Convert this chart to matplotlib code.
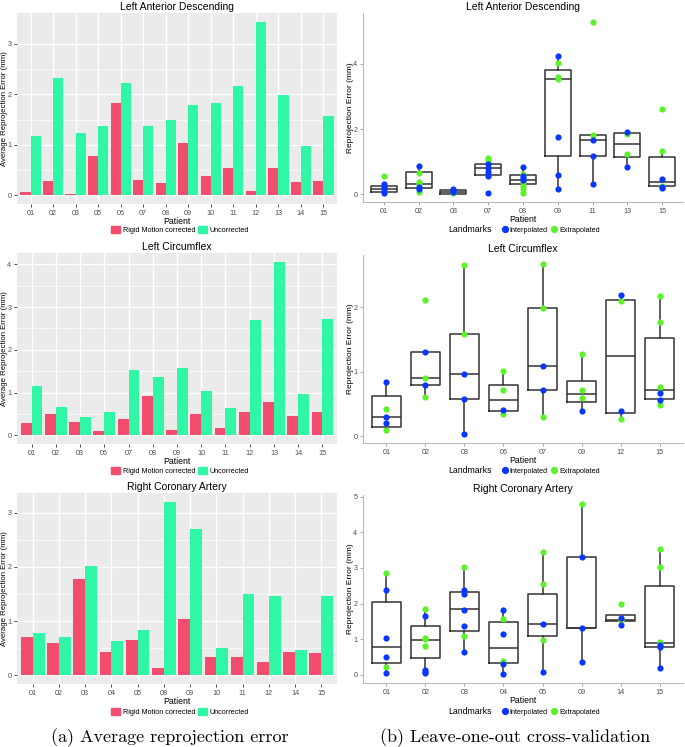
import matplotlib.pyplot as plt
from matplotlib.lines import Line2D
from matplotlib.patches import Patch
import numpy as np

plt.rcParams['font.family'] = ['Liberation Sans', 'DejaVu Sans']

# ---- bar data (average reprojection error) ----
lad_patients = ['01', '02', '03', '05', '06', '07', '08', '09', '10', '11', '12', '13', '14', '15']
lad_corrected = [0.07, 0.28, 0.03, 0.78, 1.82, 0.31, 0.25, 1.04, 0.38, 0.55, 0.09, 0.55, 0.27, 0.29]
lad_uncorrected = [1.18, 2.33, 1.24, 1.38, 2.22, 1.38, 1.50, 1.79, 1.83, 2.17, 3.44, 1.98, 0.97, 1.58]

lcx_patients = ['01', '02', '03', '06', '07', '08', '09', '10', '11', '12', '13', '14', '15']
lcx_corrected = [0.28, 0.50, 0.30, 0.11, 0.39, 0.93, 0.12, 0.49, 0.17, 0.55, 0.79, 0.46, 0.54]
lcx_uncorrected = [1.15, 0.67, 0.42, 0.54, 1.53, 1.36, 1.58, 1.03, 0.63, 2.70, 4.06, 0.96, 2.71]

rca_patients = ['01', '02', '03', '04', '05', '08', '09', '10', '11', '12', '14', '15']
rca_corrected = [0.70, 0.59, 1.77, 0.43, 0.66, 0.13, 1.04, 0.34, 0.34, 0.24, 0.43, 0.42]
rca_uncorrected = [0.78, 0.71, 2.02, 0.64, 0.83, 3.20, 2.69, 0.50, 1.49, 1.47, 0.47, 1.47]

# ---- box data (leave-one-out cross-validation) ----
lad_box_patients = ['01', '02', '03', '07', '08', '09', '11', '13', '15']
lad_q1 = [0.06, 0.19, 0.02, 0.58, 0.31, 1.17, 1.17, 1.15, 0.25]
lad_med = [0.16, 0.33, 0.07, 0.80, 0.45, 3.54, 1.66, 1.55, 0.38]
lad_q3 = [0.26, 0.70, 0.13, 0.94, 0.59, 3.80, 1.83, 1.87, 1.13]
lad_lo = [0.03, 0.07, 0.00, 0.55, 0.05, 0.18, 0.33, 0.85, 0.21]
lad_hi = [0.31, 0.86, 0.17, 1.11, 0.84, 4.24, 1.83, 1.90, 1.33]
lad_interp = [[0.31, 0.23, 0.15, 0.03], [0.86, 0.23, 0.18], [0.17, 0.10, 0.07],
              [0.94, 0.80, 0.68, 0.55, 0.04], [0.84, 0.56, 0.50, 0.45],
              [4.24, 1.76, 0.58, 0.18], [1.66, 1.17, 0.33], [1.90, 0.85], [0.48, 0.23, 0.21]]
lad_extrap = [[0.55], [0.66, 0.38, 0.33, 0.07], [0.03], [1.11, 1.03],
              [0.63, 0.37, 0.27, 0.17, 0.05], [4.02, 3.59, 3.54], [5.29, 1.83],
              [1.84, 1.25], [2.62, 1.33, 0.27]]

lcx_box_patients = ['01', '02', '03', '06', '07', '09', '12', '15']
lcx_q1 = [0.15, 0.79, 0.58, 0.39, 0.72, 0.54, 0.37, 0.58]
lcx_med = [0.30, 0.90, 0.97, 0.56, 1.09, 0.66, 1.25, 0.72]
lcx_q3 = [0.62, 1.31, 1.58, 0.79, 1.99, 0.86, 2.12, 1.53]
lcx_lo = [0.10, 0.61, 0.03, 0.35, 0.30, 0.39, 0.27, 0.48]
lcx_hi = [0.84, 1.31, 2.66, 1.01, 2.68, 1.27, 2.19, 2.17]
lcx_interp = [[0.84, 0.30, 0.20], [1.31, 0.79], [0.97, 0.58, 0.03], [0.41],
              [1.09, 0.72], [0.39], [2.19, 0.40], [0.67, 0.56]]
lcx_extrap = [[0.43, 0.10], [2.12, 0.90, 0.61], [2.66, 1.58], [1.01, 0.72, 0.35],
              [2.68, 1.99, 0.30], [1.27, 0.72, 0.59], [2.10, 0.27], [2.17, 1.78, 0.77, 0.48]]

rca_box_patients = ['01', '02', '03', '04', '05', '09', '14', '15']
rca_q1 = [0.32, 0.46, 1.22, 0.33, 1.10, 1.31, 1.50, 0.78]
rca_med = [0.77, 0.99, 1.84, 0.76, 1.44, 1.31, 1.55, 0.88]
rca_q3 = [2.04, 1.36, 2.33, 1.47, 2.28, 3.31, 1.69, 2.50]
rca_lo = [0.06, 0.06, 0.64, 0.01, 0.07, 0.35, 1.50, 0.18]
rca_hi = [2.85, 1.86, 3.04, 1.83, 3.44, 4.81, 1.69, 3.52]
rca_interp = [[2.38, 1.03, 0.51, 0.06], [1.65, 0.13, 0.08, 0.06],
              [2.37, 2.28, 1.83, 1.36, 0.64], [1.83, 1.14, 0.31, 0.01],
              [1.44, 0.07], [3.31, 1.31, 0.35], [1.59, 1.39], [0.83, 0.77, 0.18]]
rca_extrap = [[2.85, 0.23], [1.86, 1.04, 1.00, 0.81], [3.04, 1.09], [1.57, 0.39],
              [3.44, 2.55, 0.99], [4.81], [1.99, 1.54], [3.52, 3.03, 0.91]]

RED = '#F24D6E'
GREEN = '#2FF7A6'
BLUE = '#0A37FF'
LIME = '#5CF22A'
W, H = 685, 747

fig = plt.figure(figsize=(6.85, 7.47), dpi=100)


def box(x0, y0, x1, y1):
    return [x0 / W, 1 - y1 / H, (x1 - x0) / W, (y1 - y0) / H]


def draw_bars(rect, title, patients, corr, uncorr):
    ax = fig.add_axes(rect)
    x = np.arange(len(patients))
    ax.set_facecolor('#EBEBEB')
    ax.bar(x - 0.225, corr, width=0.45, color=RED, zorder=3)
    ax.bar(x + 0.225, uncorr, width=0.45, color=GREEN, zorder=3)
    top = max(max(corr), max(uncorr))
    ax.set_ylim(-0.05 * top, top * 1.05)
    ax.set_xlim(-0.6, len(patients) - 0.4)
    ax.set_xticks(x)
    ax.set_xticklabels(patients)
    ax.set_yticks(np.arange(0, int(top) + 1))
    ax.set_yticks(np.arange(0.5, top, 1.0), minor=True)
    ax.grid(which='major', color='white', linewidth=1.0, zorder=0)
    ax.grid(which='minor', axis='y', color='white', linewidth=0.5, zorder=0)
    ax.tick_params(which='minor', length=0)
    ax.tick_params(which='major', labelsize=5.2, colors='#333333', length=2.5, width=0.6,
                   labelcolor='#4D4D4D', pad=1.5)
    for s in ax.spines.values():
        s.set_visible(False)
    ax.set_title(title, fontsize=7.5, pad=2.5)
    ax.set_xlabel('Patient', fontsize=6.3, labelpad=0.5)
    ax.set_ylabel('Average Reprojection Error (mm)', fontsize=5.6, va='center')
    ax.yaxis.set_label_coords(-12 / 320, 0.5)
    return ax


def draw_boxes(rect, title, step, patients, q1, med, q3, lo, hi, interp, extrap):
    ax = fig.add_axes(rect)
    stats = []
    for i in range(len(patients)):
        stats.append({'q1': q1[i], 'med': med[i], 'q3': q3[i],
                      'whislo': lo[i], 'whishi': hi[i], 'fliers': []})
    x = np.arange(len(patients))
    ax.bxp(stats, positions=x, widths=0.75, showcaps=False, patch_artist=False,
           boxprops=dict(color='#333333', linewidth=1.1),
           medianprops=dict(color='#333333', linewidth=1.1),
           whiskerprops=dict(color='#333333', linewidth=1.1))
    for i in range(len(patients)):
        ax.scatter([x[i]] * len(extrap[i]), extrap[i], s=20, color=LIME, zorder=4, linewidths=0)
        ax.scatter([x[i]] * len(interp[i]), interp[i], s=20, color=BLUE, zorder=5, linewidths=0)
    allv = [v for g in interp + extrap for v in g]
    span = max(allv) - min(allv)
    ymax = max(allv) + 0.05 * span
    ax.set_ylim(min(allv) - 0.05 * span, ymax)
    ax.set_xlim(-0.6, len(patients) - 0.4)
    ax.set_xticks(x)
    ax.set_xticklabels(patients)
    ax.set_yticks(np.arange(0, ymax, step))
    for side in ['top', 'right']:
        ax.spines[side].set_visible(False)
    for side in ['left', 'bottom']:
        ax.spines[side].set_color('#BBBBBB')
        ax.spines[side].set_linewidth(0.8)
    ax.tick_params(labelsize=5.2, colors='#999999', length=2.5, width=0.6,
                   labelcolor='#4D4D4D', pad=1.5)
    ax.set_title(title, fontsize=7.5, pad=2.5)
    ax.set_xlabel('Patient', fontsize=6.3, labelpad=0.5)
    ax.set_ylabel('Reprojection Error (mm)', fontsize=6.0, va='center')
    ax.yaxis.set_label_coords(-12 / 320, 0.5)
    return ax


rows = [(13, 204), (253, 444), (493, 684)]
draw_bars(box(17, rows[0][0], 337, rows[0][1]), 'Left Anterior Descending',
          lad_patients, lad_corrected, lad_uncorrected)
draw_bars(box(17, rows[1][0], 337, rows[1][1]), 'Left Circumflex',
          lcx_patients, lcx_corrected, lcx_uncorrected)
draw_bars(box(17, rows[2][0], 337, rows[2][1]), 'Right Coronary Artery',
          rca_patients, rca_corrected, rca_uncorrected)

draw_boxes(box(363, 13, 683, 202), 'Left Anterior Descending', 2, lad_box_patients,
           lad_q1, lad_med, lad_q3, lad_lo, lad_hi, lad_interp, lad_extrap)
draw_boxes(box(363, 255, 683, 443), 'Left Circumflex', 1, lcx_box_patients,
           lcx_q1, lcx_med, lcx_q3, lcx_lo, lcx_hi, lcx_interp, lcx_extrap)
draw_boxes(box(363, 495, 683, 683), 'Right Coronary Artery', 1, rca_box_patients,
           rca_q1, rca_med, rca_q3, rca_lo, rca_hi, rca_interp, rca_extrap)

# legends
bar_handles = [Patch(color=RED), Patch(color=GREEN)]
pt_handles = [Line2D([], [], marker='o', linestyle='none', color=BLUE, markersize=4.2),
              Line2D([], [], marker='o', linestyle='none', color=LIME, markersize=4.2)]
for y in [230, 471, 712]:
    fig.legend(bar_handles, ['Rigid Motion corrected', 'Uncorrected'], loc='center',
               bbox_to_anchor=(180 / W, 1 - y / H), ncol=2, frameon=False, fontsize=5.2,
               handlelength=1.2, handleheight=1.2, handletextpad=0.4, columnspacing=0.4)
    fig.text(448 / W, 1 - y / H, 'Landmarks', fontsize=6.3, ha='left', va='center')
    fig.legend(pt_handles, ['Interpolated', 'Extrapolated'], loc='center',
               bbox_to_anchor=(551 / W, 1 - y / H), ncol=2, frameon=False, fontsize=5.2,
               handlelength=0.8, handletextpad=0.3, columnspacing=0.5)

fig.text(170 / W, 1 - 738 / H, '(a) Average reprojection error', fontsize=13,
         family='cmr10', ha='center', va='center')
fig.text(515 / W, 1 - 738 / H, '(b) Leave-one-out cross-validation', fontsize=13,
         family='cmr10', ha='center', va='center')

fig.savefig('out.png', dpi=100)
